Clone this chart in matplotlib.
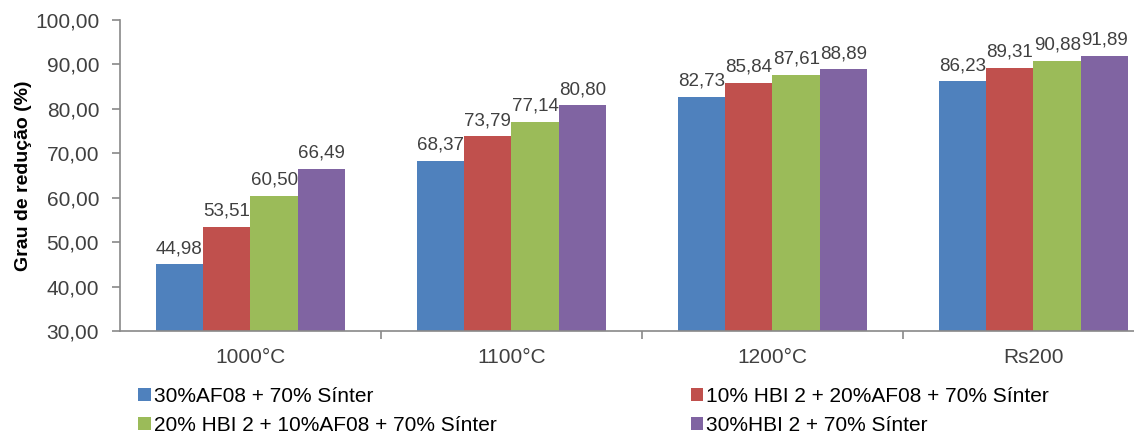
import numpy as np
import matplotlib
matplotlib.use('Agg')
import matplotlib.pyplot as plt
from matplotlib.patches import Patch

plt.rcParams['font.family'] = ['Liberation Sans', 'DejaVu Sans']

categories = ['1000°C', '1100°C', '1200°C', 'Rs200']
series_names = ['30%AF08 + 70% Sínter',
                '10% HBI 2 + 20%AF08 + 70% Sínter',
                '20% HBI 2 + 10%AF08 + 70% Sínter',
                '30%HBI 2 + 70% Sínter']
af08_30 = [44.98, 68.37, 82.73, 86.23]
hbi10_af20 = [53.51, 73.79, 85.84, 89.31]
hbi20_af10 = [60.50, 77.14, 87.61, 90.88]
hbi30 = [66.49, 80.80, 88.89, 91.89]
yticks = [30, 40, 50, 60, 70, 80, 90, 100]

colors = ['#4F81BD', '#C0504D', '#9BBB59', '#8064A2']
series = [af08_30, hbi10_af20, hbi20_af10, hbi30]

def br(v):
    return f'{v:.2f}'.replace('.', ',')

fig = plt.figure(figsize=(11.34, 4.34), dpi=100)
ax = fig.add_axes([0.1058, 0.2373, 0.9206, 0.7166])

x = np.arange(len(categories))
w = 1 / 5.5
for i, (vals, c) in enumerate(zip(series, colors)):
    pos = x + (i - 1.5) * w
    ax.bar(pos, np.array(vals) - 30, width=w, bottom=30, color=c, linewidth=0)
    for px, v in zip(pos, vals):
        ax.text(px, v + 1.6, br(v), ha='center', va='bottom', fontsize=13.5, color='#404040')

ax.set_xlim(-0.5, 3.5)
ax.set_ylim(30, 100)
ax.set_yticks(yticks)
ax.set_yticklabels([br(v) for v in yticks])
ax.set_xticks(x)
ax.set_xticklabels(categories)
ax.set_xticks([0.5, 1.5, 2.5], minor=True)
ax.tick_params(axis='x', which='major', length=0, pad=12, labelsize=15, labelcolor='#404040')
ax.tick_params(axis='x', which='minor', length=6, width=1.2, color='#898989', direction='out')
ax.tick_params(axis='y', length=6, width=1.2, color='#898989', pad=9, labelsize=15, labelcolor='#404040')

for s in ['top', 'right']:
    ax.spines[s].set_visible(False)
for s in ['left', 'bottom']:
    ax.spines[s].set_color('#898989')
    ax.spines[s].set_linewidth(1.2)

ax.set_ylabel('Grau de redução (%)', fontsize=14, fontweight='bold')
ax.yaxis.set_label_coords(-0.084, 0.5)

# legend laid out row-wise: two separate columns
def legend_col(idx, xpos):
    handles = [Patch(facecolor=colors[i], edgecolor='none') for i in idx]
    leg = fig.legend(handles, [series_names[i] for i in idx], loc='upper left',
                     bbox_to_anchor=(xpos, 0.108), frameon=False, fontsize=15,
                     handlelength=0.6, handleheight=0.6, handletextpad=0.15,
                     labelspacing=0.45, borderaxespad=0, borderpad=0)
    return leg

legend_col([0, 2], 0.122)
legend_col([1, 3], 0.609)

fig.savefig('out.png', dpi=100)
